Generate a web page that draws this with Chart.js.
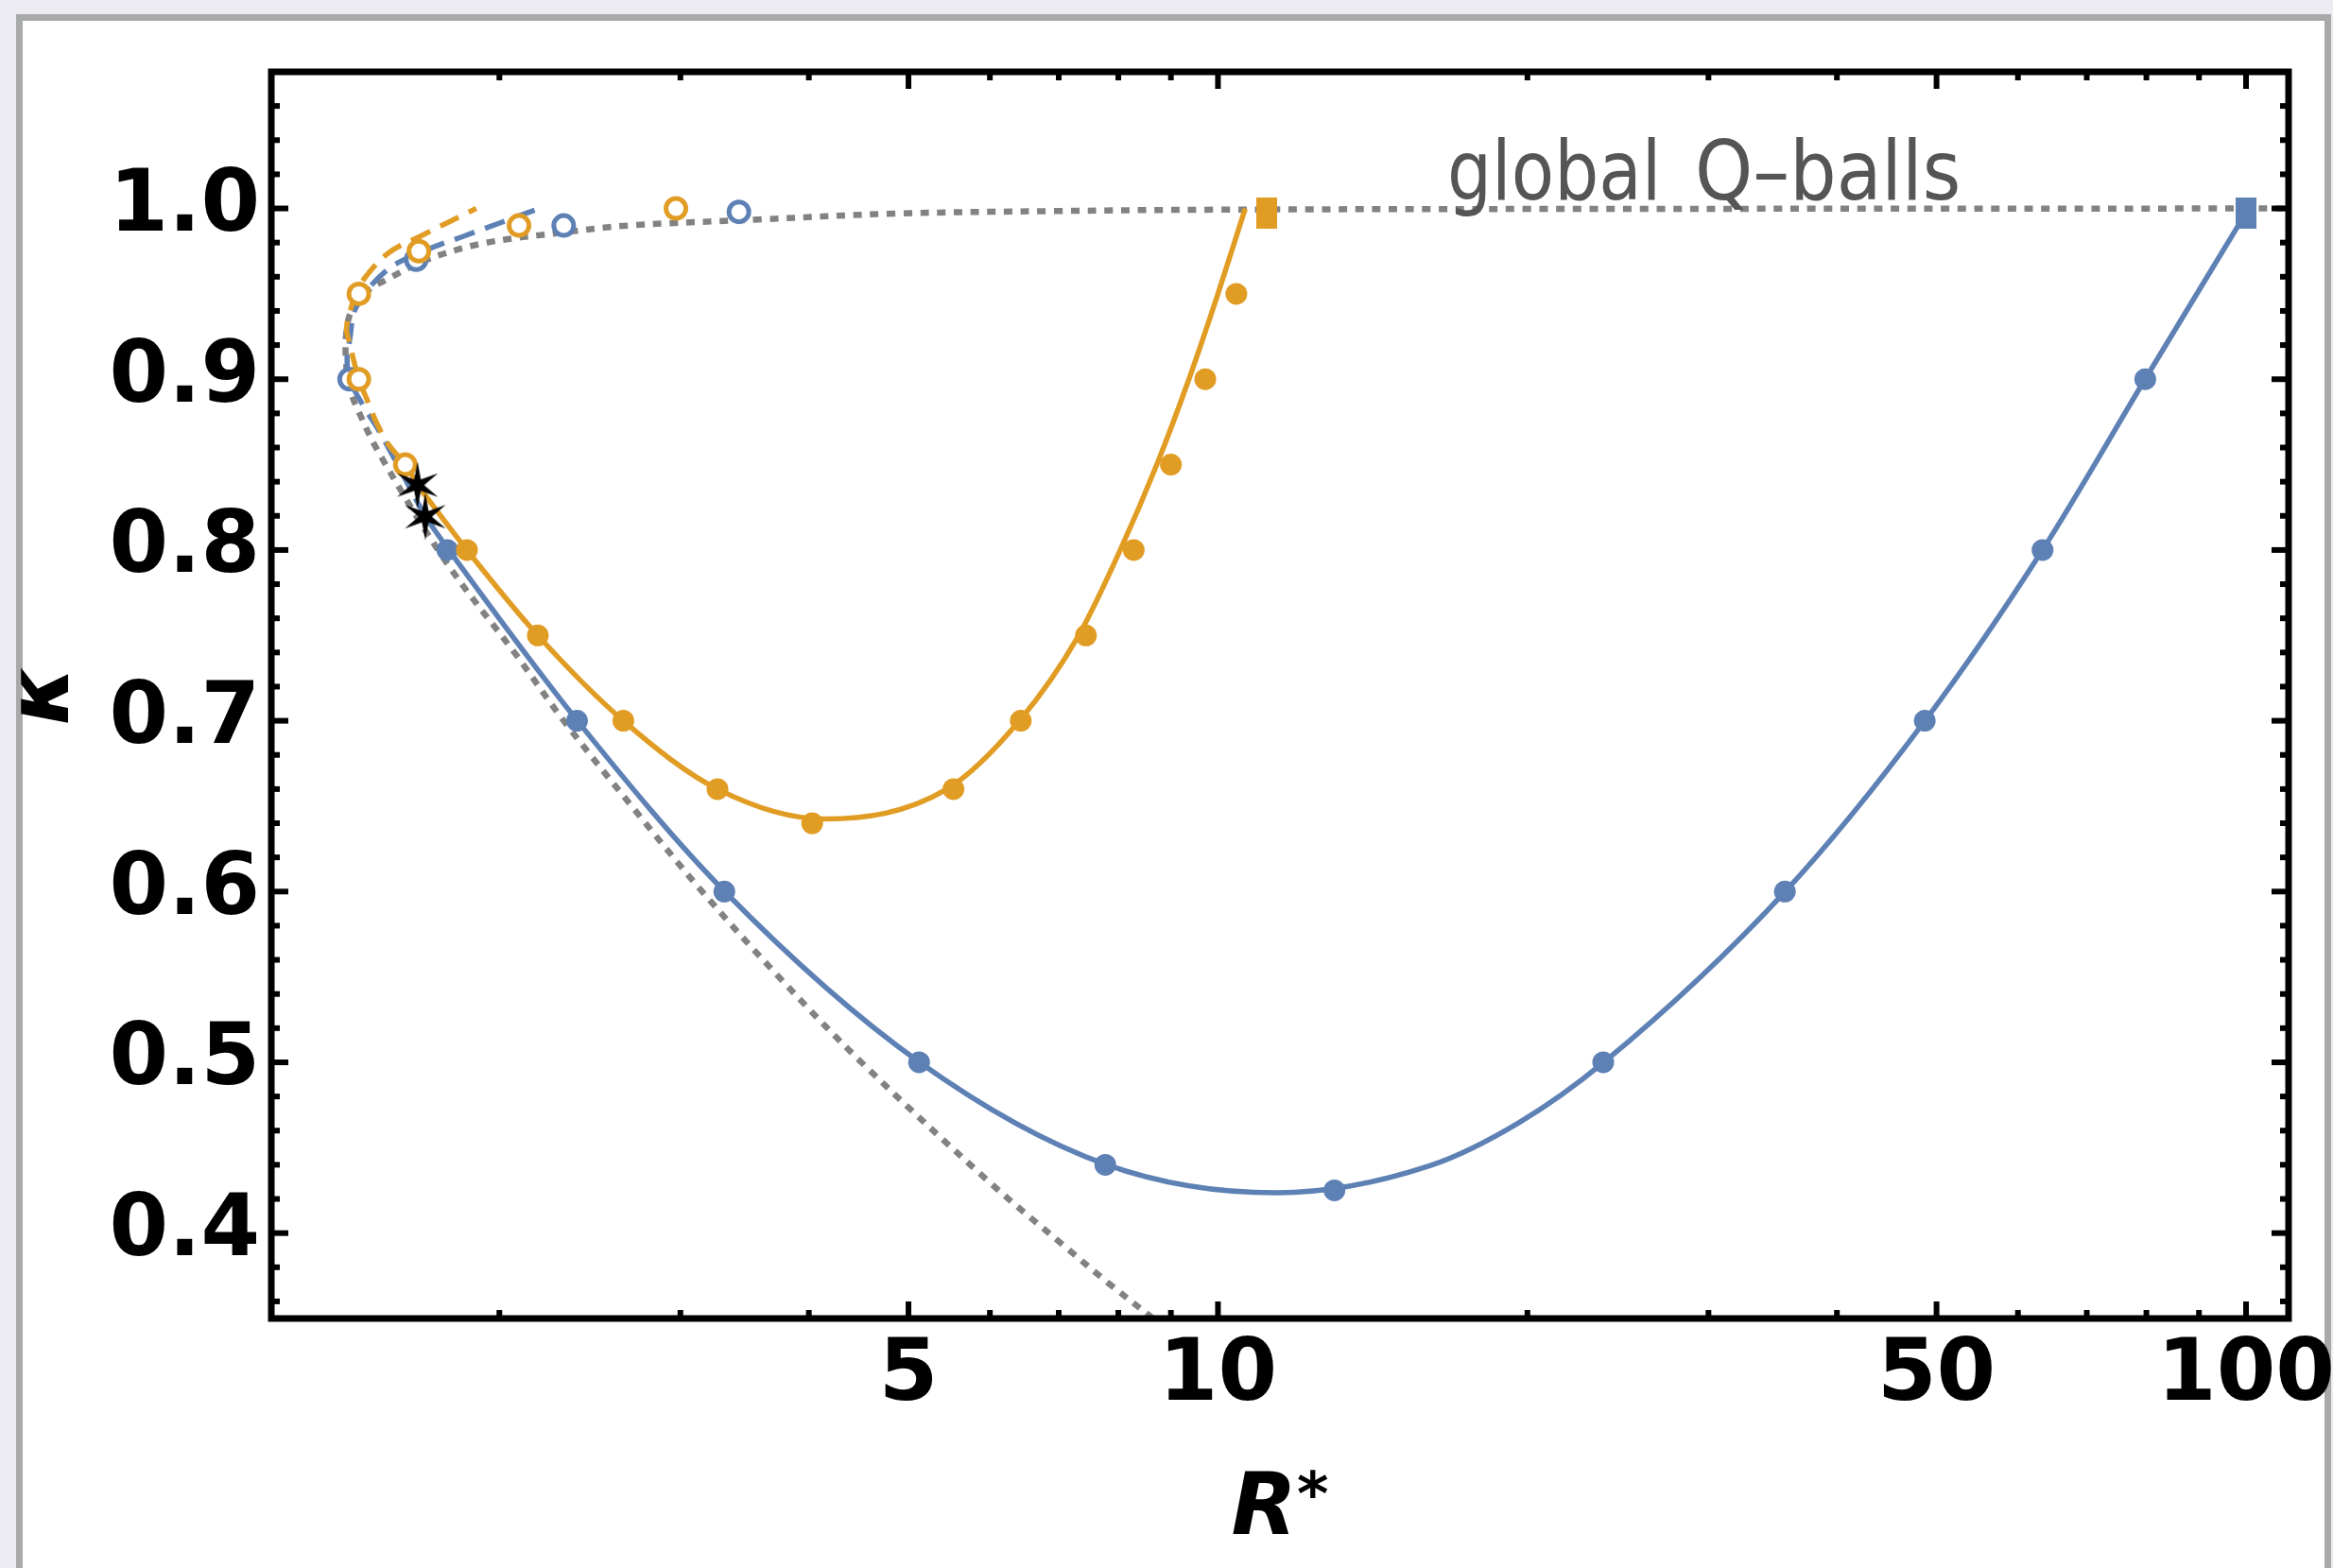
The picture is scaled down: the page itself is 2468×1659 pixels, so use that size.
<!DOCTYPE html>
<html>
<head>
<meta charset="utf-8">
<script src="https://cdn.jsdelivr.net/npm/chart.js@4.4.1/dist/chart.umd.min.js"></script>
<style>
  html, body { margin: 0; padding: 0; overflow: hidden; background: #ececf2; }
  #frame {
    position: absolute; left: 17px; top: 15px;
    width: 2435px; height: 1700px;
    border: 7px solid #a7aaa9; background: #fff;
  }
  #myChart { position: absolute; left: 0; top: 0; }
</style>
</head>
<body>
<div id="frame"></div>
<canvas id="myChart" width="2468" height="1659"></canvas>
<script>
// axis ticks
const xMajorTicks = [5, 10, 50, 100];
const xMinorTicks = [2, 3, 4, 6, 7, 8, 9, 20, 30, 40, 60, 70, 80, 90];
const yMajorTicks = [0.4, 0.5, 0.6, 0.7, 0.8, 0.9, 1.0];
const yMinorTicks = [0.36, 0.38, 0.42, 0.44, 0.46, 0.48, 0.52, 0.54, 0.56, 0.58,
  0.62, 0.64, 0.66, 0.68, 0.72, 0.74, 0.76, 0.78, 0.82, 0.84, 0.86, 0.88,
  0.92, 0.94, 0.96, 0.98, 1.02, 1.04, 1.06];

// global Q-balls curve (dotted)
const globalR = [8.65, 7.85, 7.07, 5.99, 4.50, 3.74, 3.15, 2.69, 2.31, 2.08, 1.775, 1.53, 1.457, 1.43, 1.418, 1.42, 1.436, 1.49, 1.556, 1.70, 1.93, 2.31, 2.67, 3.57, 4.84, 7.0, 10, 20, 110];
const globalK = [0.35, 0.37, 0.393, 0.43, 0.50, 0.55, 0.60, 0.65, 0.70, 0.738, 0.793, 0.856, 0.882, 0.895, 0.912, 0.928, 0.94, 0.952, 0.9585, 0.970, 0.9796, 0.986, 0.990, 0.9935, 0.997, 0.9985, 0.9993, 0.9997, 1.0];

// blue branch
const blueSolidR = [1.694, 1.786, 2.382, 3.313, 5.126, 7.773, 11.4, 16.07, 19.62, 23.73, 35.62, 48.72, 63.39, 79.77, 100];
const blueSolidK = [0.8195, 0.80, 0.70, 0.60, 0.50, 0.4403, 0.4236, 0.4394, 0.4646, 0.50, 0.60, 0.70, 0.80, 0.90, 0.9975];
const blueDashedR = [1.694, 1.53, 1.477, 1.43, 1.422, 1.43, 1.452, 1.556, 1.698, 1.851, 2.188];
const blueDashedK = [0.8195, 0.869, 0.8837, 0.90, 0.912, 0.9225, 0.9424, 0.964, 0.9756, 0.984, 1.0];
const blueDotsR = [1.78, 2.38, 3.31, 5.12, 7.77, 12.98, 23.7, 35.6, 48.7, 63.4, 79.8];
const blueDotsK = [0.80, 0.70, 0.60, 0.50, 0.44, 0.425, 0.50, 0.60, 0.70, 0.80, 0.90];
const blueOpenR = [1.43, 1.66, 2.31, 3.42];
const blueOpenK = [0.90, 0.97, 0.99, 0.998];
const blueEndR = [100];
const blueEndK = [0.9975];

// orange branch
const orangeSolidR = [1.665, 1.86, 2.18, 2.64, 3.26, 4.14, 5.45, 6.41, 7.32, 8.035, 8.72, 9.37, 10.0, 10.63];
const orangeSolidK = [0.838, 0.80, 0.75, 0.70, 0.66, 0.6425, 0.66, 0.70, 0.75, 0.80, 0.85, 0.90, 0.95, 1.0];
const orangeDashedR = [1.665, 1.62, 1.561, 1.519, 1.488, 1.46, 1.428, 1.42, 1.44, 1.459, 1.556, 1.679, 1.899];
const orangeDashedK = [0.838, 0.85, 0.8616, 0.8745, 0.8876, 0.90, 0.9225, 0.93, 0.945, 0.9543, 0.9734, 0.984, 1.0];
const orangeDotsR = [1.86, 2.18, 2.64, 3.26, 4.03, 5.53, 6.43, 7.44, 8.28, 9.00, 9.72, 10.42];
const orangeDotsK = [0.80, 0.75, 0.70, 0.66, 0.64, 0.66, 0.70, 0.75, 0.80, 0.85, 0.90, 0.95];
const orangeOpenR = [1.62, 1.46, 1.46, 1.67, 2.09, 2.97];
const orangeOpenK = [0.85, 0.90, 0.95, 0.975, 0.99, 1.0];
const orangeEndR = [11.16];
const orangeEndK = [0.9975];

// transition points
const starR = [1.665, 1.694];
const starK = [0.838, 0.8195];

const blue = "#5e81b5";
const orange = "#e19c24";
const gray = "#828282";
const font = "'DejaVu Sans', sans-serif";

function pts(xs, ys) {
  return xs.map((v, i) => ({ x: v, y: ys[i] }));
}

function rectMarker(color) {
  const c = document.createElement("canvas");
  c.width = 22; c.height = 33;
  const g = c.getContext("2d");
  g.fillStyle = color;
  g.fillRect(0, 0, 22, 33);
  return c;
}

function starMarker() {
  const c = document.createElement("canvas");
  c.width = 52; c.height = 54;
  const g = c.getContext("2d");
  g.translate(26, 27);
  g.beginPath();
  for (let i = 0; i < 12; i++) {
    const r = i % 2 === 0 ? 25 : 7;
    const a = -Math.PI / 2 + i * Math.PI / 6;
    g.lineTo(r * Math.cos(a), r * Math.sin(a));
  }
  g.closePath();
  g.fillStyle = "#000";
  g.fill();
  return c;
}

// solid branches run left to right, so monotone splines keep them smooth
function solid(xs, ys, color, order) {
  return {
    data: pts(xs, ys), showLine: true, borderColor: color, borderWidth: 5.5,
    cubicInterpolationMode: "monotone", pointRadius: 0, fill: false, order: order
  };
}

function dashed(xs, ys, color, dash, width, order) {
  return {
    data: pts(xs, ys), showLine: true, borderColor: color, borderWidth: width,
    borderDash: dash, borderCapStyle: "butt", pointRadius: 0, tension: 0.35, fill: false, order: order
  };
}

function markers(xs, ys, opts, order) {
  return Object.assign({ data: pts(xs, ys), showLine: false, order: order }, opts);
}

// frame, inward ticks on all sides, axis titles and the curve label
const frameTicks = {
  id: "frameTicks",
  afterDraw(chart) {
    const { ctx, chartArea: a, scales: { x, y } } = chart;
    ctx.save();
    ctx.strokeStyle = "#000";
    ctx.lineWidth = 6;
    ctx.lineCap = "butt";
    function seg(x1, y1, x2, y2) {
      ctx.beginPath(); ctx.moveTo(x1, y1); ctx.lineTo(x2, y2); ctx.stroke();
    }
    x.ticks.forEach(t => {
      const px = x.getPixelForValue(t.value);
      const len = xMajorTicks.includes(t.value) ? 18 : 9;
      seg(px, a.bottom, px, a.bottom - len);
      seg(px, a.top, px, a.top + len);
    });
    y.ticks.forEach(t => {
      const py = y.getPixelForValue(t.value);
      const len = yMajorTicks.some(m => Math.abs(m - t.value) < 1e-9) ? 18 : 9;
      seg(a.left, py, a.left + len, py);
      seg(a.right, py, a.right - len, py);
    });
    ctx.lineWidth = 7;
    ctx.strokeRect(a.left, a.top, a.right - a.left, a.bottom - a.top);

    // R* under the x axis
    ctx.fillStyle = "#000";
    ctx.textBaseline = "alphabetic";
    ctx.textAlign = "left";
    ctx.font = "italic bold 90px " + font;
    const wR = ctx.measureText("R").width;
    ctx.font = "italic bold 64px " + font;
    const wS = ctx.measureText("*").width;
    const x0 = (a.left + a.right) / 2 - (wR + wS) / 2;
    ctx.font = "italic bold 90px " + font;
    ctx.fillText("R", x0, 1623);
    ctx.font = "italic bold 64px " + font;
    ctx.fillText("*", x0 + wR, 1603);

    // kappa beside the y axis
    ctx.save();
    ctx.translate(72, (a.top + a.bottom) / 2);
    ctx.rotate(-Math.PI / 2);
    ctx.textAlign = "center";
    ctx.font = "italic bold 90px " + font;
    ctx.fillText("κ", 0, 0);
    ctx.restore();

    // curve label, slightly condensed
    ctx.fillStyle = "#555555";
    ctx.font = "87px " + font;
    ctx.save(); ctx.translate(1531, 211); ctx.scale(0.853, 1); ctx.fillText("global", 0, 0); ctx.restore();
    ctx.save(); ctx.translate(1793, 211); ctx.scale(0.895, 1); ctx.fillText("Q–balls", 0, 0); ctx.restore();
    ctx.restore();
  }
};

new Chart("myChart", {
  type: "scatter",
  data: {
    datasets: [
      markers(starR, starK, { pointStyle: starMarker(), pointRadius: 10 }, 0),
      markers(orangeEndR, orangeEndK, { pointStyle: rectMarker(orange), pointRadius: 10 }, 1),
      markers(blueEndR, blueEndK, { pointStyle: rectMarker(blue), pointRadius: 10 }, 1),
      markers(orangeDotsR, orangeDotsK, { pointStyle: "circle", pointRadius: 11.5, pointBackgroundColor: orange, pointBorderWidth: 0 }, 2),
      markers(blueDotsR, blueDotsK, { pointStyle: "circle", pointRadius: 11.5, pointBackgroundColor: blue, pointBorderWidth: 0 }, 3),
      markers(orangeOpenR, orangeOpenK, { pointStyle: "circle", pointRadius: 10.5, pointBackgroundColor: "#fff", pointBorderColor: orange, pointBorderWidth: 5 }, 4),
      markers(blueOpenR, blueOpenK, { pointStyle: "circle", pointRadius: 10.5, pointBackgroundColor: "#fff", pointBorderColor: blue, pointBorderWidth: 5 }, 5),
      solid(orangeSolidR, orangeSolidK, orange, 6),
      dashed(orangeDashedR, orangeDashedK, orange, [22, 12], 5.5, 7),
      solid(blueSolidR, blueSolidK, blue, 8),
      dashed(blueDashedR, blueDashedK, blue, [22, 12], 5.5, 9),
      dashed(globalR, globalK, gray, [9, 8.7], 6.5, 10)
    ]
  },
  options: {
    responsive: false,
    animation: false,
    layout: { padding: { left: 0, top: 76, right: 47, bottom: 0 } },
    plugins: { legend: { display: false }, tooltip: { enabled: false } },
    scales: {
      x: {
        type: "logarithmic",
        position: "bottom",
        min: 1.2,
        max: 110,
        grid: { display: false, drawTicks: false },
        border: { display: false },
        afterBuildTicks: scale => {
          scale.ticks = xMinorTicks.concat(xMajorTicks).sort((a, b) => a - b).map(v => ({ value: v }));
        },
        afterFit: scale => {
          scale.height = 264;
          scale.paddingLeft = 0;
          scale.paddingRight = 0;
        },
        ticks: {
          autoSkip: false, maxRotation: 0, minRotation: 0, padding: 9, color: "#000",
          font: { family: font, size: 90, weight: "bold", lineHeight: 1.2 },
          callback: value => xMajorTicks.includes(value) ? String(value) : ""
        }
      },
      y: {
        type: "linear",
        position: "left",
        min: 0.35,
        max: 1.08,
        grid: { display: false, drawTicks: false },
        border: { display: false },
        afterBuildTicks: scale => {
          scale.ticks = yMinorTicks.concat(yMajorTicks).sort((a, b) => a - b).map(v => ({ value: v }));
        },
        afterFit: scale => {
          scale.width = 287;
          scale.paddingTop = 0;
          scale.paddingBottom = 0;
        },
        ticks: {
          autoSkip: false, padding: 12, color: "#000",
          font: { family: font, size: 90, weight: "bold" },
          callback: value => yMajorTicks.some(m => Math.abs(m - value) < 1e-9) ? value.toFixed(1) : ""
        }
      }
    }
  },
  plugins: [frameTicks]
});
</script>
</body>
</html>
